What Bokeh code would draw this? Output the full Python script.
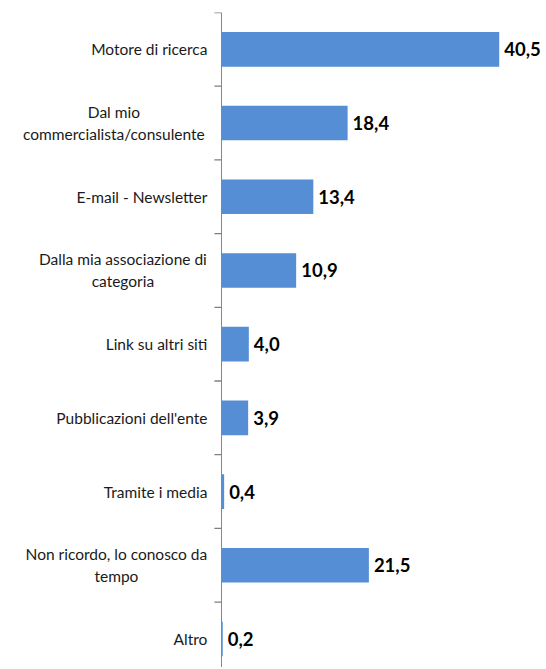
from bokeh.plotting import figure
from bokeh.models import ColumnDataSource, Range1d, FixedTicker, LinearAxis
from bokeh.core.properties import value
from bokeh.embed import file_html
from bokeh.resources import INLINE

categories = [
    "Motore di ricerca",
    "Dal mio\ncommercialista/consulente",
    "E-mail - Newsletter",
    "Dalla mia associazione di\ncategoria",
    "Link su altri siti",
    "Pubblicazioni dell'ente",
    "Tramite i media",
    "Non ricordo, lo conosco da\ntempo",
    "Altro",
]
values = [40.5, 18.4, 13.4, 10.9, 4.0, 3.9, 0.4, 21.5, 0.2]

n = len(categories)
ypos = [n - i - 0.5 for i in range(n)]
boundaries = list(range(n + 1))
value_text = [f"{v:.1f}".replace(".", ",") for v in values]

W, H = 544, 667
x_start, x_end = -32.2, 47.1
tick_len = 7 * (x_end - x_start) / W  # 7 px expressed in data units

src = ColumnDataSource(dict(y=ypos, v=values, vt=value_text))

# category label lines: single-line labels right-aligned, wrapped ones centred
center_offsets = {1: -107.5, 3: -98.5, 7: -105}
line_gap = 22
single = dict(x=[], y=[], t=[])
multi = dict(x=[], y=[], t=[], xo=[], yo=[])
for i, c in enumerate(categories):
    parts = c.split("\n")
    if len(parts) == 1:
        single["x"].append(0)
        single["y"].append(ypos[i])
        single["t"].append(c)
    else:
        m = len(parts)
        for k, part in enumerate(parts):
            multi["x"].append(0)
            multi["y"].append(ypos[i])
            multi["t"].append(part)
            multi["xo"].append(center_offsets[i])
            multi["yo"].append((k - (m - 1) / 2) * line_gap)
src_single = ColumnDataSource(single)
src_multi = ColumnDataSource(multi)

p = figure(
    width=W, height=H,
    output_backend="svg", toolbar_location=None,
    x_range=Range1d(x_start, x_end), y_range=Range1d(0.113, n),
    min_border_left=0, min_border_right=0, min_border_top=12, min_border_bottom=0,
)
p.outline_line_color = None
p.grid.visible = False
p.xaxis.visible = False
p.yaxis.visible = False

p.hbar(y="y", right="v", left=0, height=0.47, source=src,
       fill_color="#558ED5", line_color=None)

p.text(x="v", y="y", text="vt", source=src, x_offset=5,
       text_baseline="middle", text_align="left",
       text_font=value("Lato"), text_font_style="bold",
       text_font_size="18.5px", text_color="black")

# tick marks between categories, pointing left from the axis
p.segment(x0=[0] * len(boundaries), y0=boundaries,
          x1=[-tick_len] * len(boundaries), y1=boundaries,
          line_color="#7f7f7f", line_width=1.3)

# category axis line at value 0
cat_axis = LinearAxis(
    fixed_location=0,
    ticker=FixedTicker(ticks=[], minor_ticks=[]),
    axis_line_color="#888888",
    major_tick_line_color=None,
    minor_tick_line_color=None,
)
p.add_layout(cat_axis, "left")

p.text(x="x", y="y", text="t", source=src_single, x_offset=-14,
       text_align="right", text_baseline="middle",
       text_font=value("Lato"), text_font_size="15.5px", text_color="#1a1a1a")
p.text(x="x", y="y", text="t", source=src_multi, x_offset="xo", y_offset="yo",
       text_align="center", text_baseline="middle",
       text_font=value("Lato"), text_font_size="15.5px", text_color="#1a1a1a")

open("out.html", "w").write(file_html(p, INLINE))
